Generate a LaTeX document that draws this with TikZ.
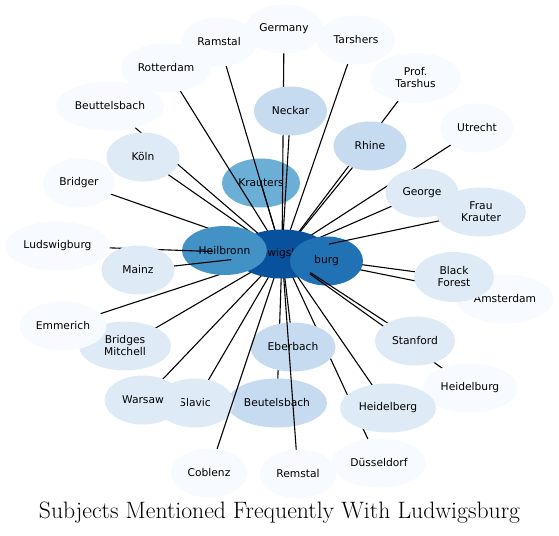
\documentclass[tikz,border=0pt]{standalone}
\usepackage{fontspec}
\setsansfont{DejaVu Sans}
\usepackage{tikz}
\usetikzlibrary{shapes.geometric}

\definecolor{paleblue}{HTML}{F7FBFF}
\definecolor{lightblue}{HTML}{DEEBF7}
\definecolor{softblue}{HTML}{C6DBEF}
\definecolor{krblue}{HTML}{6BAED6}
\definecolor{heilblue}{HTML}{4292C6}
\definecolor{burgblue}{HTML}{2171B5}
\definecolor{lbblue}{HTML}{08519C}

\pgfdeclarelayer{bottom}
\pgfdeclarelayer{wires}
\pgfdeclarelayer{lowbub}
\pgfdeclarelayer{wiresb}
\pgfdeclarelayer{hub}
\pgfdeclarelayer{wiresc}
\pgfdeclarelayer{hubtop}
\pgfdeclarelayer{wiresd}
\pgfsetlayers{bottom,wires,lowbub,wiresb,hub,wiresc,hubtop,wiresd,main}

\begin{document}
\begin{tikzpicture}[
  x=1pt, y=-1pt,
  bub/.style={ellipse, inner sep=0pt, minimum height=49pt, align=center, font=\sffamily\fontsize{10.7}{12}\selectfont},
  pale/.style={bub, fill=paleblue},
  light/.style={bub, fill=lightblue},
  soft/.style={bub, fill=softblue},
  wire/.style={line width=1.1pt, black},
]
% hub nodes
\begin{pgfonlayer}{bottom}
\path[use as bounding box, fill=white] (0,0) rectangle (559,535);
\node[bub, fill=krblue, minimum width=78pt] (krauters) at (261,183) {Krauters};
\end{pgfonlayer}
\begin{pgfonlayer}{hub}
\node[bub, fill=lbblue, minimum width=96pt] (lb) at (282,254) {Ludwigsburg};
\node[bub, fill=heilblue, minimum width=85pt] (heilbronn) at (224.5,250.5) {Heilbronn};
\end{pgfonlayer}
\begin{pgfonlayer}{hubtop}
\node[bub, fill=burgblue, minimum width=73pt] (burg) at (326.5,261) {burg};
\end{pgfonlayer}
\begin{pgfonlayer}{lowbub}
\node[soft, minimum width=85pt] (eberbach) at (293,347) {Eberbach};
\node[soft, minimum width=100pt] (beutelsbach) at (277,403) {Beutelsbach};
\node[light, minimum width=78pt] (slavic) at (195,403) {Slavic};
\end{pgfonlayer}

% outer ring
\node[pale, minimum width=76pt] (ramstal) at (219,42) {Ramstal};
\node[pale, minimum width=78pt] (germany) at (284,29) {Germany};
\node[pale, minimum width=78pt] (tarshers) at (356,40) {Tarshers};
\node[pale, minimum width=90pt] (rotterdam) at (166,68) {Rotterdam};
\node[pale, minimum width=91pt, minimum height=50pt] (tarshus) at (415.5,78) {Prof.\\Tarshus};
\node[pale, minimum width=108pt] (beuttelsbach) at (110,106) {Beuttelsbach};
\node[pale, minimum width=73pt] (utrecht) at (477,128) {Utrecht};
\node[pale, minimum width=72pt] (bridger) at (79,183) {Bridger};
\node[pale, minimum width=105pt] (ludswig) at (57.5,246) {Ludswigburg};
\node[pale, minimum width=97pt] (amsterdam) at (505,299) {Amsterdam};
\node[pale, minimum width=95pt] (heidelburg) at (470,388) {Heidelburg};
\node[pale, minimum width=94pt] (duesseldorf) at (379,463) {Düsseldorf};
\node[pale, minimum width=76pt] (coblenz) at (209,473) {Coblenz};
\node[pale, minimum width=76pt] (remstal) at (298,474) {Remstal};

\node[soft, minimum width=73pt] (neckar) at (290.5,111) {Neckar};
\node[soft, minimum width=73pt] (rhine) at (370,146) {Rhine};

\node[light, minimum width=73pt] (koeln) at (143,157) {Köln};
\node[light, minimum width=73pt] (mainz) at (138,270) {Mainz};
\node[light, minimum width=73pt] (george) at (422,193) {George};
\node[light, minimum width=90pt] (frau) at (481,212) {Frau\\Krauter};
\node[light, minimum width=80pt, minimum height=50pt] (blackforest) at (454,277) {Black\\Forest};
\node[light, minimum width=80pt] (stanford) at (415,341) {Stanford};
\node[light, minimum width=96pt] (heidelberg) at (388,408) {Heidelberg};
\node[light, minimum width=77pt] (warsaw) at (143,400) {Warsaw};
\node[light, minimum width=92pt] (bridges) at (125,346) {Bridges\\Mitchell};
\node[pale, minimum width=87pt] (emmerich) at (63,326) {Emmerich};

% connectors
\begin{pgfonlayer}{wires}
\foreach \n in {krauters,ramstal,rotterdam,germany,neckar,tarshers,tarshus,rhine,utrecht,george,blackforest,amsterdam,heidelberg,duesseldorf,eberbach,beutelsbach,slavic,warsaw,bridges,emmerich,bridger,koeln,beuttelsbach}
  {\draw[wire] (\n.center) -- (lb.center);}
\end{pgfonlayer}
\begin{pgfonlayer}{wiresb}
\foreach \n in {remstal,coblenz}{\draw[wire] (\n.center) -- (lb.center);}
\end{pgfonlayer}
\begin{pgfonlayer}{wiresc}
\foreach \n/\s in {ludswig/69,mainz/51}{\draw[wire, shorten >=\s pt] (\n.center) -- (lb.center);}
\end{pgfonlayer}
\begin{pgfonlayer}{wiresd}
\foreach \n/\s in {frau/48,stanford/34,heidelburg/34}{\draw[wire, shorten >=\s pt] (\n.center) -- (lb.center);}
\end{pgfonlayer}

\node[font=\fontsize{23.7}{28}\selectfont] (title) at (279.5,513) {Subjects Mentioned Frequently With Ludwigsburg};
\end{tikzpicture}
\end{document}
